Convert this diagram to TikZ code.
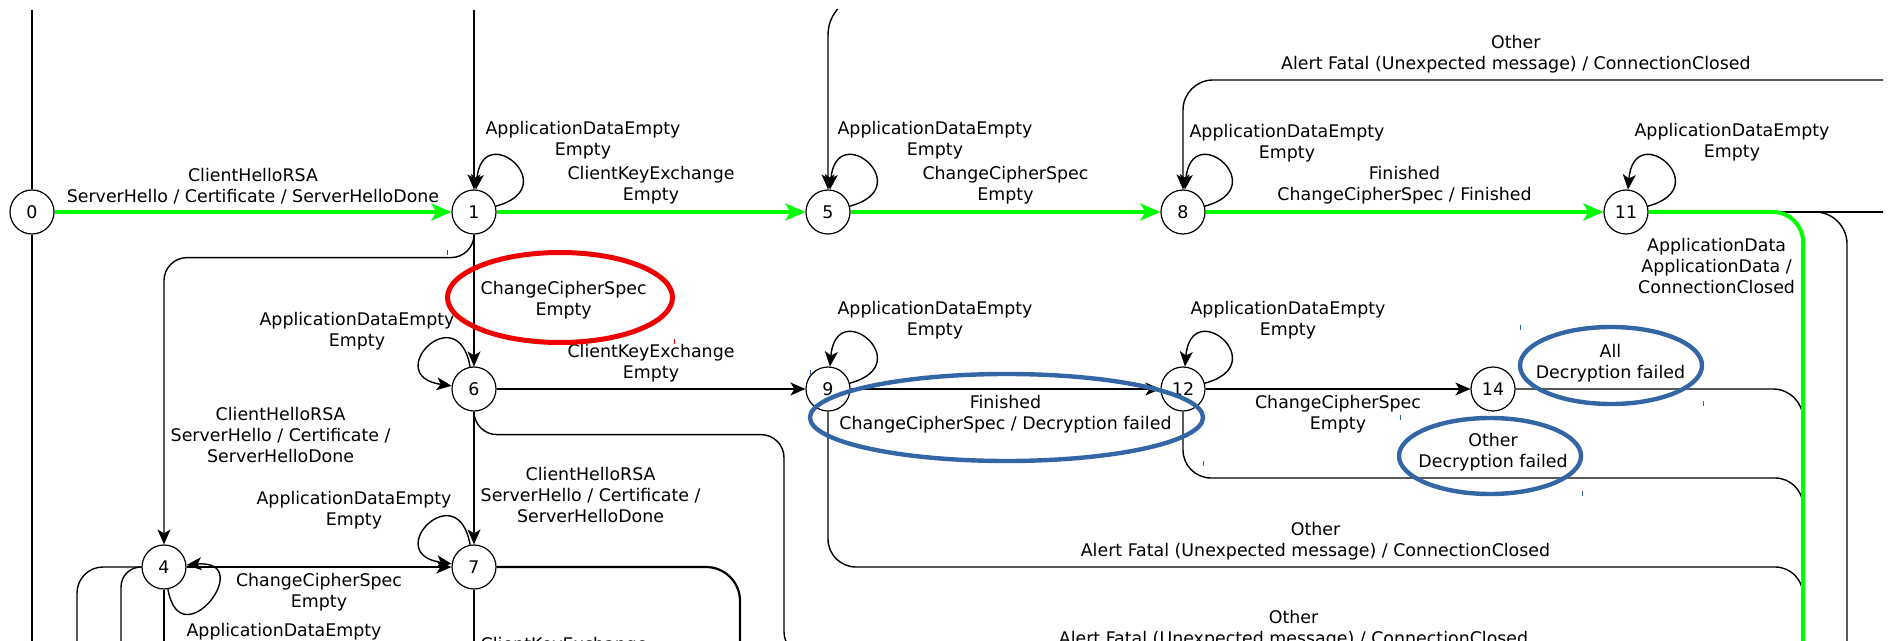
\documentclass[tikz,border=0pt]{standalone}
\usepackage{fontspec}
\setmainfont{DejaVu Sans}
\usepackage{tikz}
\usetikzlibrary{arrows.meta, positioning}
\definecolor{hlgreen}{RGB}{0,255,0}
\definecolor{markred}{RGB}{238,0,0}
\definecolor{markblue}{RGB}{52,101,164}
\newcommand{\lblsize}{\fontsize{8.7pt}{10.5pt}\selectfont}

\begin{document}
\begin{tikzpicture}[
  x=0.5pt, y=-0.5pt, on grid,
  state/.style={circle, draw, line width=0.6pt, fill=white, minimum size=22pt,
                inner sep=0pt, font=\lblsize},
  lbl/.style={font=\lblsize, align=center, inner sep=3pt, text=black},
  edge/.style={-{Stealth[length=7.5pt, width=6.5pt, inset=2pt]}, line width=0.7pt},
  plain/.style={line width=0.7pt},
  hl/.style={-{Stealth[length=10pt, width=8.5pt, inset=2.5pt]}, line width=2pt, hlgreen},
  ring/.style={line width=2.2pt},
  tick/.style={line width=0.5pt},
]
\useasboundingbox (0,0) rectangle (1888,641);
\begin{scope}
\clip (0,10) rectangle (1883,641);

% states
\node[state] (s0) at (32,212) {0};
\node[state, right=221pt of s0] (s1) {1};
\node[state, right=177pt of s1] (s5) {5};
\node[state, right=177.5pt of s5] (s8) {8};
\node[state, right=221.5pt of s8] (s11) {11};
\node[state, below=88.5pt of s1] (s6) {6};
\node[state, right=177pt of s6] (s9) {9};
\node[state, right=177.5pt of s9] (s12) {12};
\node[state, right=155pt of s12] (s14) {14};
\node[state, below=89pt of s6] (s7) {7};
\node[state, left=155pt of s7] (s4) {4};

% loose ends running out of the frame
\coordinate (top0) at (32,10);
\coordinate (bot0) at (32,700);
\coordinate (top1) at (474,10);
\coordinate (top5) at (900,-5);
\coordinate (top8) at (1950,80);
\coordinate (out11) at (1950,212);
\coordinate (down11) at (1847,700);
\coordinate (grn11) at (1803,700);
\coordinate (sink) at (1803,700);
\coordinate (out6) at (1950,655);
\coordinate (bot7a) at (740,700);
\coordinate (bot7b) at (474,720);
\coordinate (bot4a) at (77,700);
\coordinate (bot4b) at (121,700);
\coordinate (bot4c) at (164,700);

% self loops
\draw[edge] (s1.15) .. controls +(15:36pt) and +(85:36pt) .. (s1.85);
\draw[edge] (s5.15) .. controls +(15:36pt) and +(85:36pt) .. (s5.85);
\draw[edge] (s8.15) .. controls +(15:36pt) and +(85:36pt) .. (s8.85);
\draw[edge] (s11.15) .. controls +(15:36pt) and +(85:36pt) .. (s11.85);
\draw[edge] (s9.15) .. controls +(15:36pt) and +(85:36pt) .. (s9.85);
\draw[edge] (s12.15) .. controls +(15:36pt) and +(85:36pt) .. (s12.85);
\draw[edge] (s6.100) .. controls +(100:36pt) and +(172:36pt) .. (s6.172);
\draw[edge] (s7.100) .. controls +(100:36pt) and +(172:36pt) .. (s7.172);
\draw[edge] (s4.-80) .. controls +(-80:36pt) and +(5:36pt) .. (s4.5);

\node[lbl, above right=36pt and 54.5pt of s1] (l1) {ApplicationDataEmpty\\Empty};
\node[lbl, above right=36pt and 53.5pt of s5] (l5) {ApplicationDataEmpty\\Empty};
\node[lbl, above right=34.5pt and 52pt of s8] (l8) {ApplicationDataEmpty\\Empty};
\node[lbl, above right=35pt and 53pt of s11] (l11) {ApplicationDataEmpty\\Empty};
\node[lbl, above right=34.25pt and 53.5pt of s9] (l9) {ApplicationDataEmpty\\Empty};
\node[lbl, above right=34.25pt and 52.5pt of s12] (l12) {ApplicationDataEmpty\\Empty};
\node[lbl, above left=29pt and 58.5pt of s6] (l6) {ApplicationDataEmpty\\Empty};
\node[lbl, above left=28.25pt and 60pt of s7] (l7) {ApplicationDataEmpty\\Empty};
\node[lbl, below right=37.5pt and 60pt of s4] (l4) {ApplicationDataEmpty\\Empty};

% incoming from above
\draw[plain] (top0) -- (s0) -- (bot0);
\draw[edge] (top1) -- (s1);
\draw[edge, rounded corners=20pt] (top5) -| (s5);
\draw[edge, rounded corners=15pt] (top8) -| node[lbl, above, pos=0.283] {Other\\Alert Fatal (Unexpected message) / ConnectionClosed} (s8);

% middle rows
\draw[edge] (s1) -- node[lbl, right] {ChangeCipherSpec\\Empty} (s6);
\draw[edge] (s6) -- node[lbl, above] {ClientKeyExchange\\Empty} (s9);
\draw[edge] (s9) -- node[lbl, below] {Finished\\ChangeCipherSpec / Decryption failed} (s12);
\draw[edge] (s12) -- node[lbl, below] {ChangeCipherSpec\\Empty} (s14);
\draw[edge] (s6) -- node[lbl, right, pos=0.63] {ClientHelloRSA\\ServerHello / Certificate /\\ServerHelloDone} (s7);
\draw[edge] (s4) -- node[lbl, below] {ChangeCipherSpec\\Empty} (s7);
\draw[edge, rounded corners=11.5pt] (s1.south) -- ++(0,-11.5pt)
  -| node[lbl, right, pos=0.81] {ClientHelloRSA\\ServerHello / Certificate /\\ServerHelloDone} (s4);

% failures running off to the right
\draw[plain, rounded corners=15pt] (s14) -| node[lbl, above, pos=0.165] {All\\Decryption failed} (sink);
\draw[plain, rounded corners=14pt] (s12.south) |- node[lbl, above, pos=0.75] {Other\\Decryption failed} (1803,478) -- (sink);
\draw[plain, rounded corners=14pt] (s9.south) |- node[lbl, above, pos=0.75] {Other\\Alert Fatal (Unexpected message) / ConnectionClosed} (1803,567) -- (sink);
\draw[plain, rounded corners=11.5pt] (s6.south) -- ++(0,-11.5pt) -| (784,655)
  -- node[lbl, above, pos=0.437] {Other\\Alert Fatal (Unexpected message) / ConnectionClosed} (out6);

% bottom rows
\draw[plain, line width=1.1pt, rounded corners=17pt] (s7.east) -| (bot7a);
\draw[plain] (s7) -- node[lbl, right, pos=0.51] {ClientKeyExchange\\Empty} (bot7b);
\draw[plain, rounded corners=13pt] (s4.west) -| (bot4a);
\draw[plain, rounded corners=10pt] (s4.west) -| (bot4b);
\draw[plain] (s4) -- (bot4c);

% right edge
\draw[plain] (s11) -- (out11);
\draw[plain, rounded corners=16pt] (s11) -| (down11);

% happy path
\draw[hl] (s0) -- node[lbl, above] {ClientHelloRSA\\ServerHello / Certificate / ServerHelloDone} (s1);
\draw[hl] (s1) -- node[lbl, above] {ClientKeyExchange\\Empty} (s5);
\draw[hl] (s5) -- node[lbl, above] {ChangeCipherSpec\\Empty} (s8);
\draw[hl] (s8) -- node[lbl, above] {Finished\\ChangeCipherSpec / Finished} (s11);
\draw[hl, -, rounded corners=15pt] (s11) -| node[lbl, left, pos=0.555] {ApplicationData\\ApplicationData /\\ConnectionClosed} (grn11);

% marks
\draw[markred, ring, line width=2.5pt] (560,297.5) ellipse [x radius=56.25pt, y radius=22.5pt];
\draw[markblue, ring] (1006.5,417.5) ellipse [x radius=98.25pt, y radius=21.75pt];
\draw[markblue, ring] (1611,365.5) ellipse [x radius=45.5pt, y radius=19.25pt];
\draw[markblue, ring] (1490,456) ellipse [x radius=45.5pt, y radius=19pt];
\draw[markred, tick] (447,250) -- (447,255) (674,339) -- (674,344);
\draw[markblue, tick] (810,370) -- (810,375) (1203,461) -- (1203,466)
  (1520,325) -- (1520,330) (1703,401) -- (1703,406)
  (1400,415) -- (1400,420) (1582,491) -- (1582,496);
\end{scope}
\end{tikzpicture}
\end{document}
